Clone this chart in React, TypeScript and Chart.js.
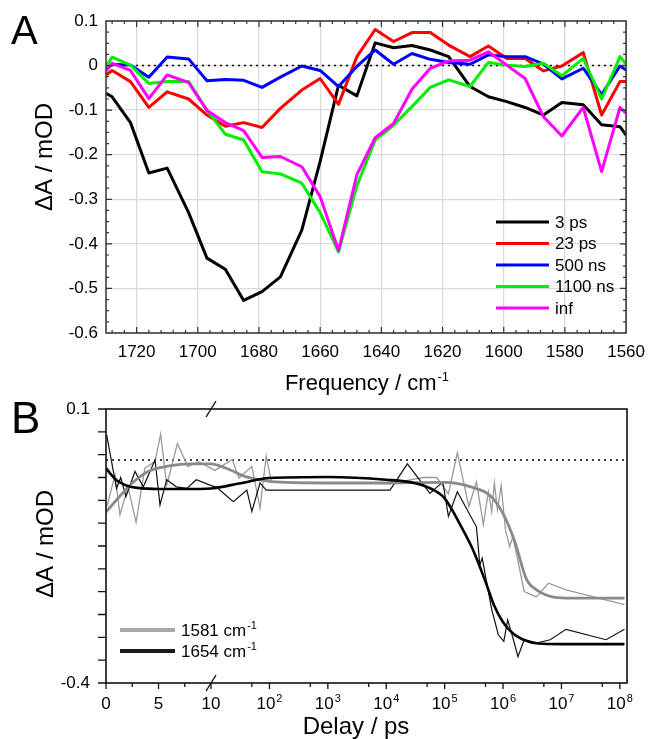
import React, { useEffect, useRef } from "react";
import { Chart, registerables } from "chart.js";

Chart.register(...registerables);

const FONT = '"Liberation Sans", Arial, Helvetica, sans-serif';

// ---------------- Panel A : spectra ----------------
const FREQ = [1730, 1728, 1722, 1716, 1710, 1703, 1697, 1691, 1685, 1679, 1673, 1666, 1660, 1654, 1648, 1642, 1636, 1630, 1624, 1618, 1611, 1605, 1599, 1593, 1587, 1581, 1574, 1568, 1562, 1560];
const SPEC_3PS = [-0.062, -0.07, -0.128, -0.241, -0.23, -0.33, -0.432, -0.457, -0.527, -0.507, -0.474, -0.369, -0.215, -0.044, -0.068, 0.051, 0.04, 0.045, 0.035, 0.02, -0.047, -0.07, -0.081, -0.094, -0.111, -0.083, -0.088, -0.133, -0.137, -0.156];
const SPEC_23PS = [-0.021, -0.011, -0.036, -0.094, -0.059, -0.075, -0.111, -0.136, -0.128, -0.139, -0.096, -0.055, -0.029, -0.087, 0.02, 0.081, 0.054, 0.074, 0.074, 0.046, 0.02, 0.044, 0.016, 0.016, -0.012, -0.001, 0.029, -0.111, -0.036, -0.036];
const SPEC_500NS = [-0.01, 0.003, 0.001, -0.026, 0.019, 0.015, -0.034, -0.031, -0.033, -0.049, -0.026, -0.001, -0.011, -0.047, -0.002, 0.035, 0.003, 0.027, 0.014, 0.007, 0.003, 0.024, 0.02, 0.02, 0.003, -0.03, -0.006, -0.065, -0.001, -0.01];
const SPEC_1100NS = [-0.003, 0.019, 0.001, -0.04, -0.036, -0.036, -0.1, -0.154, -0.167, -0.238, -0.243, -0.264, -0.33, -0.418, -0.27, -0.167, -0.134, -0.092, -0.049, -0.032, -0.047, 0.007, 0.001, -0.002, 0.005, -0.023, 0.016, -0.075, 0.02, 0.003];
const SPEC_INF = [-0.012, 0.005, -0.011, -0.074, -0.021, -0.038, -0.101, -0.128, -0.146, -0.206, -0.204, -0.227, -0.294, -0.415, -0.245, -0.162, -0.13, -0.053, -0.006, 0.01, 0.012, 0.031, 0.001, -0.029, -0.115, -0.158, -0.094, -0.238, -0.094, -0.107];
const LABELS_A = ["3 ps", "23 ps", "500 ns", "1100 ns", "inf"];
const COLORS_A = ["#000000", "#ff0000", "#0000ff", "#00ee00", "#ff00ff"];
const FREQ_TICKS = [1720, 1700, 1680, 1660, 1640, 1620, 1600, 1580, 1560];
const DA_TICKS_A = [0.1, 0, -0.1, -0.2, -0.3, -0.4, -0.5, -0.6];

// ---------------- Panel B : kinetics ----------------
const T_1581 = [0.1, 0.86, 1.33, 2.1, 2.86, 3.7, 4.67, 5.2, 5.78, 6.8, 7.8, 8.8, 11.7, 23, 30, 50, 69, 88, 108, 11600, 43000, 73000, 116000, 165000, 260000, 350000, 460000, 560000, 640000, 710000, 800000, 930000, 1100000, 1300000, 1470000, 1700000, 2300000, 3700000, 6000000, 12000000, 120000000];
const DA_1581 = [-0.077, -0.02, -0.093, -0.042, -0.107, -0.008, 0.004, 0.054, -0.039, 0.037, -0.005, 0.004, -0.012, 0.008, -0.026, -0.005, -0.081, 0.014, -0.033, -0.036, -0.025, -0.025, -0.055, 0.02, -0.078, -0.033, -0.111, -0.051, -0.087, -0.035, -0.084, -0.04, -0.121, -0.151, -0.133, -0.165, -0.233, -0.243, -0.218, -0.23, -0.257];
const T_1654 = [0.06, 1.0, 1.4, 1.9, 2.76, 3.55, 4.67, 5.14, 5.78, 6.7, 7.7, 8.6, 9.9, 12.5, 24, 41, 50, 69, 88, 11600, 23000, 56000, 93000, 116000, 165000, 350000, 380000, 400000, 440000, 640000, 830000, 1030000, 1200000, 1450000, 1800000, 2300000, 3800000, 6400000, 12000000, 58000000, 120000000];
const DA_1654 = [0.053, -0.045, -0.025, -0.06, -0.014, -0.042, 0.007, -0.075, -0.029, -0.042, -0.045, -0.029, -0.039, -0.043, -0.069, -0.048, -0.087, -0.035, -0.048, -0.048, 0.0, -0.054, -0.033, -0.096, -0.051, -0.115, -0.157, -0.185, -0.172, -0.266, -0.312, -0.324, -0.285, -0.315, -0.352, -0.321, -0.327, -0.321, -0.302, -0.321, -0.302];
const T_FIT_1581 = [0, 1, 2.5, 4, 6, 8, 10, 20, 40, 100, 1000, 10000, 100000, 300000, 600000, 1000000, 1600000, 2500000, 4000000, 7000000, 12000000, 120000000];
const FIT_1581 = [-0.088, -0.066, -0.035, -0.014, -0.004, 0.0, 0.0, -0.01, -0.024, -0.032, -0.035, -0.035, -0.034, -0.043, -0.058, -0.091, -0.143, -0.21, -0.232, -0.243, -0.245, -0.245];
const T_FIT_1654 = [0, 0.5, 1, 2, 3, 5, 7.5, 10, 30, 100, 1000, 10000, 30000, 60000, 100000, 200000, 300000, 500000, 700000, 1000000, 1500000, 2500000, 4000000, 10000000, 120000000];
const FIT_1654 = [-0.008, -0.02, -0.03, -0.04, -0.044, -0.046, -0.046, -0.045, -0.036, -0.026, -0.024, -0.029, -0.035, -0.046, -0.063, -0.118, -0.155, -0.215, -0.258, -0.289, -0.31, -0.323, -0.328, -0.329, -0.329];
const LABELS_B = ["1581", "1654"];
const DELAY_LIN_TICKS = [0, 5, 10];
const DELAY_LIN_MINOR = [2.5, 7.5];
const DELAY_LOG_EXPS = [2, 3, 4, 5, 6, 7, 8];
const DA_TICKS_B = [0.1, -0.4];
const BASELINE_B = 0.007;

// broken axis: linear 0..10 ps, then log10 decades
const LIN_END = 10;
const DECADE = 5.56;
const delayToAxis = (t: number) => (t <= LIN_END ? t : LIN_END + (Math.log10(t) - 1) * DECADE);

function drawSup(ctx: CanvasRenderingContext2D, base: string, sup: string, x: number, baseline: number, size: number, supSize: number, align: "center" | "left") {
  ctx.font = `${size}px ${FONT}`;
  const wb = ctx.measureText(base).width;
  ctx.font = `${supSize}px ${FONT}`;
  const ws = ctx.measureText(sup).width;
  const total = wb + 1 + ws;
  const x0 = align === "center" ? x - total / 2 : x;
  ctx.textAlign = "left";
  ctx.textBaseline = "alphabetic";
  ctx.font = `${size}px ${FONT}`;
  ctx.fillText(base, x0, baseline);
  ctx.font = `${supSize}px ${FONT}`;
  ctx.fillText(sup, x0 + wb + 1, baseline - size * 0.4);
}

const fmt1 = (v: number) => {
  const r = Math.round(v * 10) / 10;
  return r === 0 ? "0" : String(r);
};

export default function App() {
  const refA = useRef<HTMLCanvasElement>(null);
  const refB = useRef<HTMLCanvasElement>(null);

  useEffect(() => {
    const seriesA = [SPEC_3PS, SPEC_23PS, SPEC_500NS, SPEC_1100NS, SPEC_INF];

    const pluginA = {
      id: "panelA",
      beforeDatasetsDraw(chart: any) {
        const { ctx, chartArea: a, scales } = chart;
        const y0 = scales.y.getPixelForValue(0);
        ctx.save();
        ctx.setLineDash([2, 4]);
        ctx.strokeStyle = "#000";
        ctx.lineWidth = 1.6;
        ctx.beginPath();
        ctx.moveTo(a.left, y0);
        ctx.lineTo(a.right, y0);
        ctx.stroke();
        ctx.restore();
      },
      afterDraw(chart: any) {
        const { ctx, chartArea: a, scales } = chart;
        const xs = scales.x;
        const ys = scales.y;
        ctx.save();
        ctx.strokeStyle = "#333";
        ctx.lineWidth = 1.5;
        ctx.strokeRect(a.left, a.top, a.right - a.left, a.bottom - a.top);
        ctx.lineWidth = 1.2;
        ctx.beginPath();
        for (let f = 1564; f < 1730; f += 4) {
          const px = xs.getPixelForValue(f);
          const len = f % 20 === 0 ? 6 : 3;
          ctx.moveTo(px, a.top);
          ctx.lineTo(px, a.top + len);
          ctx.moveTo(px, a.bottom);
          ctx.lineTo(px, a.bottom - len);
        }
        for (let k = 1; k < 28; k++) {
          const v = -0.6 + k * 0.025;
          const py = ys.getPixelForValue(v);
          const len = k % 4 === 0 ? 6 : 3;
          ctx.moveTo(a.left, py);
          ctx.lineTo(a.left + len, py);
          ctx.moveTo(a.right, py);
          ctx.lineTo(a.right - len, py);
        }
        ctx.stroke();

        // legend
        ctx.fillStyle = "#000";
        LABELS_A.forEach((lab, i) => {
          const y = 222 + i * 21.5;
          ctx.strokeStyle = COLORS_A[i];
          ctx.lineWidth = 3;
          ctx.beginPath();
          ctx.moveTo(496, y);
          ctx.lineTo(549, y);
          ctx.stroke();
          ctx.font = `17px ${FONT}`;
          ctx.textAlign = "left";
          ctx.textBaseline = "middle";
          ctx.fillText(lab, 555, y + 1);
        });

        // titles
        ctx.fillStyle = "#000";
        ctx.save();
        ctx.translate(45, 157);
        ctx.rotate(-Math.PI / 2);
        ctx.font = `24px ${FONT}`;
        ctx.textAlign = "center";
        ctx.textBaseline = "middle";
        ctx.fillText("ΔA / mOD", 0, 0);
        ctx.restore();
        drawSup(ctx, "Frequency / cm", "-1", 367, 390, 22, 13, "center");
        ctx.font = `40px ${FONT}`;
        ctx.textAlign = "left";
        ctx.textBaseline = "alphabetic";
        ctx.fillText("A", 11, 44);
        ctx.restore();
      },
    };

    const chartA = new Chart(refA.current as HTMLCanvasElement, {
      type: "line",
      data: {
        datasets: seriesA.map((arr, i) => ({
          label: LABELS_A[i],
          data: FREQ.map((f, j) => ({ x: f, y: arr[j] })),
          borderColor: COLORS_A[i],
          borderWidth: 3,
          pointRadius: 0,
          tension: 0,
          order: 5 - i,
          borderJoinStyle: "round" as const,
        })),
      },
      options: {
        animation: false,
        responsive: false,
        maintainAspectRatio: false,
        layout: { padding: { left: 0, top: 21, right: 23, bottom: 369 } },
        plugins: { legend: { display: false }, tooltip: { enabled: false } },
        scales: {
          x: {
            type: "linear",
            reverse: true,
            min: 1560,
            max: 1730,
            afterFit: (s: any) => {
              s.height = 37;
            },
            afterBuildTicks: (s: any) => {
              s.ticks = FREQ_TICKS.map((v) => ({ value: v }));
            },
            ticks: { autoSkip: false, maxRotation: 0, padding: 9, color: "#000", font: { family: FONT, size: 17 }, callback: (v: any) => String(v) },
            grid: { color: "#d9d9d9", lineWidth: 1.3, drawTicks: false },
            border: { display: false },
          },
          y: {
            type: "linear",
            min: -0.6,
            max: 0.1,
            afterFit: (s: any) => {
              s.width = 106;
            },
            afterBuildTicks: (s: any) => {
              s.ticks = DA_TICKS_A.map((v) => ({ value: v }));
            },
            ticks: { autoSkip: false, padding: 8, color: "#000", font: { family: FONT, size: 17 }, callback: (v: any) => fmt1(Number(v)) },
            grid: { color: "#d9d9d9", lineWidth: 1.3, drawTicks: false },
            border: { display: false },
          },
        },
      },
      plugins: [pluginA],
    } as any);

    const pluginB = {
      id: "panelB",
      beforeDatasetsDraw(chart: any) {
        const { ctx, chartArea: a, scales } = chart;
        const y0 = scales.y.getPixelForValue(BASELINE_B);
        ctx.save();
        ctx.setLineDash([2, 4]);
        ctx.strokeStyle = "#000";
        ctx.lineWidth = 1.6;
        ctx.beginPath();
        ctx.moveTo(a.left, y0);
        ctx.lineTo(a.right, y0);
        ctx.stroke();
        ctx.restore();
      },
      afterDraw(chart: any) {
        const { ctx, chartArea: a, scales } = chart;
        const xs = scales.x;
        const ys = scales.y;
        ctx.save();
        ctx.strokeStyle = "#111";
        ctx.lineWidth = 1.6;
        ctx.strokeRect(a.left, a.top, a.right - a.left, a.bottom - a.top);
        ctx.lineWidth = 1.3;
        ctx.beginPath();
        // y ticks (outward)
        for (let k = 0; k <= 12; k++) {
          const v = 0.1 - (k * 0.5) / 12;
          const py = ys.getPixelForValue(v);
          ctx.moveTo(a.left, py);
          ctx.lineTo(a.left - 8, py);
        }
        // x ticks (outward)
        const major: number[] = [...DELAY_LIN_TICKS, ...DELAY_LOG_EXPS.map((e) => Math.pow(10, e))];
        const minor: number[] = [...DELAY_LIN_MINOR, 50, 500, 5000, 50000, 500000, 5000000, 50000000];
        major.forEach((t) => {
          const px = xs.getPixelForValue(delayToAxis(t));
          ctx.moveTo(px, a.bottom);
          ctx.lineTo(px, a.bottom + 6);
        });
        minor.forEach((t) => {
          const px = xs.getPixelForValue(delayToAxis(t));
          ctx.moveTo(px, a.bottom);
          ctx.lineTo(px, a.bottom + 4);
        });
        ctx.stroke();

        // axis break marks
        const bx = xs.getPixelForValue(delayToAxis(LIN_END));
        ctx.lineWidth = 1.4;
        ctx.beginPath();
        [a.top, a.bottom].forEach((yy) => {
          ctx.moveTo(bx - 5, yy + 8);
          ctx.lineTo(bx + 5, yy - 8);
        });
        ctx.stroke();

        // x tick labels
        ctx.fillStyle = "#000";
        DELAY_LIN_TICKS.forEach((t) => {
          ctx.font = `17px ${FONT}`;
          ctx.textAlign = "center";
          ctx.textBaseline = "alphabetic";
          ctx.fillText(String(t), xs.getPixelForValue(delayToAxis(t)), 709);
        });
        DELAY_LOG_EXPS.forEach((e) => {
          drawSup(ctx, "10", String(e), xs.getPixelForValue(delayToAxis(Math.pow(10, e))), 709, 17, 11, "center");
        });

        // legend
        const lc = ["#a8a8a8", "#1a1a1a"];
        LABELS_B.forEach((lab, i) => {
          const y = 630 + i * 21;
          ctx.strokeStyle = lc[i];
          ctx.lineWidth = 4;
          ctx.beginPath();
          ctx.moveTo(120, y);
          ctx.lineTo(175, y);
          ctx.stroke();
          ctx.fillStyle = "#000";
          drawSup(ctx, lab + " cm", "-1", 181, y + 6, 17, 11, "left");
        });

        // titles
        ctx.fillStyle = "#000";
        ctx.save();
        ctx.translate(46, 544);
        ctx.rotate(-Math.PI / 2);
        ctx.font = `24px ${FONT}`;
        ctx.textAlign = "center";
        ctx.textBaseline = "middle";
        ctx.fillText("ΔA / mOD", 0, 0);
        ctx.restore();
        ctx.font = `24px ${FONT}`;
        ctx.textAlign = "center";
        ctx.textBaseline = "alphabetic";
        ctx.fillText("Delay / ps", 356, 734);
        ctx.font = `44px ${FONT}`;
        ctx.textAlign = "left";
        ctx.fillText("B", 11, 433);
        ctx.restore();
      },
    };

    const mk = (ts: number[], vs: number[]) => ts.map((t, i) => ({ x: delayToAxis(t), y: vs[i] }));

    const chartB = new Chart(refB.current as HTMLCanvasElement, {
      type: "line",
      data: {
        datasets: [
          { label: "1654 fit", data: mk(T_FIT_1654, FIT_1654), borderColor: "#000", borderWidth: 2.6, pointRadius: 0, cubicInterpolationMode: "monotone", order: 1 },
          { label: "1581 fit", data: mk(T_FIT_1581, FIT_1581), borderColor: "#8a8a8a", borderWidth: 2.8, pointRadius: 0, cubicInterpolationMode: "monotone", order: 2 },
          { label: "1654", data: mk(T_1654, DA_1654), borderColor: "#111", borderWidth: 1.2, pointRadius: 0, tension: 0, order: 3 },
          { label: "1581", data: mk(T_1581, DA_1581), borderColor: "#9a9a9a", borderWidth: 1.3, pointRadius: 0, tension: 0, order: 4 },
        ],
      },
      options: {
        animation: false,
        responsive: false,
        maintainAspectRatio: false,
        layout: { padding: { left: 0, top: 409, right: 27, bottom: 0 } },
        plugins: { legend: { display: false }, tooltip: { enabled: false } },
        scales: {
          x: {
            type: "linear",
            min: 0,
            max: 49.6,
            afterFit: (s: any) => {
              s.height = 56;
            },
            ticks: { display: false },
            grid: { display: false, drawTicks: false },
            border: { display: false },
          },
          y: {
            type: "linear",
            min: -0.4,
            max: 0.1,
            afterFit: (s: any) => {
              s.width = 106;
            },
            afterBuildTicks: (s: any) => {
              s.ticks = DA_TICKS_B.map((v) => ({ value: v }));
            },
            ticks: { autoSkip: false, padding: 16, color: "#000", font: { family: FONT, size: 17 }, callback: (v: any) => fmt1(Number(v)) },
            grid: { display: false, drawTicks: false },
            border: { display: false },
          },
        },
      },
      plugins: [pluginB],
    } as any);

    return () => {
      chartA.destroy();
      chartB.destroy();
    };
  }, []);

  return (
    <div style={{ position: "absolute", left: 0, top: 0, width: 654, height: 739, background: "#fff" }}>
      <canvas ref={refA} width={654} height={739} style={{ position: "absolute", left: 0, top: 0 }} />
      <canvas ref={refB} width={654} height={739} style={{ position: "absolute", left: 0, top: 0 }} />
    </div>
  );
}
